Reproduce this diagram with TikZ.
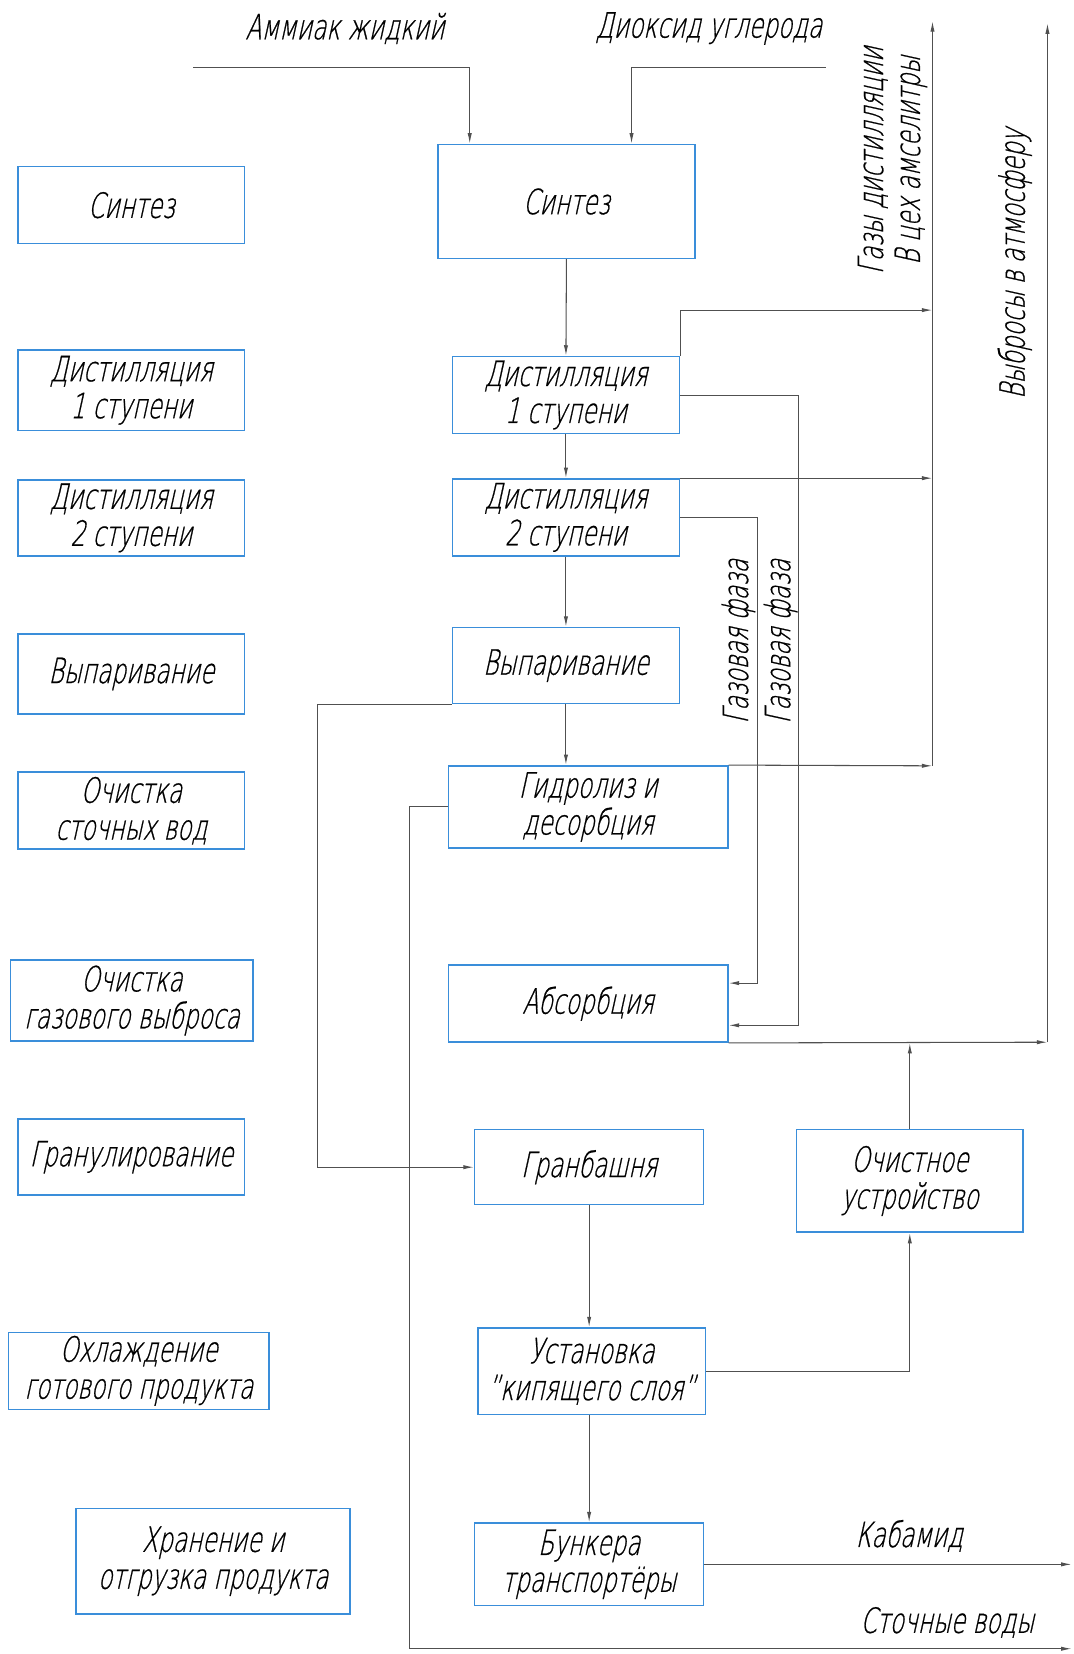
\documentclass[tikz,border=0pt]{standalone}
\usepackage{fontspec}
\setmainfont{DejaVu Sans ExtraLight}[FakeSlant=0.22,FakeStretch=0.67,FakeBold=0.6]
\usetikzlibrary{arrows.meta}
\definecolor{boxblue}{RGB}{58,142,218}
\definecolor{linegray}{RGB}{80,80,80}

\begin{document}
\begin{tikzpicture}[x=1pt,y=-1pt,>={Latex[length=10pt,width=4pt]},font=\fontsize{33}{35}\selectfont,
  blk/.style={draw=boxblue,line width=1.4pt,align=center,inner sep=0pt},
  flow/.style={->,draw=linegray,line width=1pt},
  lbl/.style={inner sep=0pt,align=center}]
\useasboundingbox (0,0) rectangle (1018,1568);
% stages on the left
\node[blk,minimum width=215pt,minimum height=73pt] (lsynth) at (124.5,194.5) {Синтез};
\node[blk,minimum width=215pt,minimum height=76pt] (ldist1) at (124.5,370) {Дистилляция\\1 ступени};
\node[blk,minimum width=215pt,minimum height=72pt] (ldist2) at (124.5,491) {Дистилляция\\2 ступени};
\node[blk,minimum width=215pt,minimum height=76pt] (levap) at (124.5,639) {Выпаривание};
\node[blk,minimum width=215pt,minimum height=73pt] (lwater) at (124.5,768.5) {Очистка\\сточных вод};
\node[blk,minimum width=230pt,minimum height=77pt] (lgas) at (125,948.5) {Очистка\\газового выброса};
\node[blk,minimum width=215pt,minimum height=72pt] (lgran) at (124.5,1097) {Гранулирование};
\node[blk,minimum width=247pt,minimum height=73pt] (lcool) at (131.5,1299.5) {Охлаждение\\готового продукта};
\node[blk,minimum width=260pt,minimum height=100pt] (lstore) at (202,1480) {Хранение и\\отгрузка продукта};
% process
\node[blk,minimum width=244pt,minimum height=108pt] (synth) at (537,191) {Синтез};
\node[blk,minimum width=215pt,minimum height=73pt] (dist1) at (536.5,374.5) {Дистилляция\\1 ступени};
\node[blk,minimum width=215pt,minimum height=73pt] (dist2) at (536.5,490.5) {Дистилляция\\2 ступени};
\node[blk,minimum width=215pt,minimum height=72pt] (evap) at (536.5,631) {Выпаривание};
\node[blk,minimum width=265pt,minimum height=78pt] (hydro) at (557.5,765) {Гидролиз и\\десорбция};
\node[blk,minimum width=265pt,minimum height=73pt] (absorb) at (557.5,951.5) {Абсорбция};
\node[blk,minimum width=217pt,minimum height=71pt] (gran) at (558.5,1106.5) {Гранбашня};
\node[blk,minimum width=215pt,minimum height=97pt] (clean) at (862.5,1119.5) {Очистное\\устройство};
\node[blk,minimum width=216pt,minimum height=82pt] (fluid) at (561,1300) {Установка\\"кипящего слоя"};
\node[blk,minimum width=217pt,minimum height=78pt] (bunker) at (558.5,1483) {Бункера\\транспортёры};
% texts
\node[lbl] (tnh3) at (327,27) {Аммиак жидкий};
\node[lbl] (tco2) at (672,27) {Диоксид углерода};
\node[lbl,rotate=90] (tgas) at (846,152) {Газы дистилляции\\В цех амселитры};
\node[lbl,rotate=90] (tair) at (962,250) {Выбросы в атмосферу};
\node[lbl,rotate=90] (tph1) at (700,608) {Газовая фаза};
\node[lbl,rotate=90] (tph2) at (740,608) {Газовая фаза};
\node[lbl] (turea) at (862,1456) {Кабамид};
\node[lbl] (twaste) at (898,1538) {Сточные воды};
% free ends
\coordinate (nh3) at (183,64); \coordinate (co2) at (783,64);
\coordinate (gastop) at (884,20); \coordinate (gasbot) at (884,726);
\coordinate (airtop) at (993,22); \coordinate (airbot) at (993,988);
\coordinate (urea) at (1016,1483); \coordinate (waste) at (1016,1563);
% connectors
\draw[flow] (nh3) -| ([xshift=31pt]synth.north west);
\draw[flow] (co2) -| ([xshift=-61pt]synth.north east);
\draw[flow] (synth.south) -- (dist1.north);
\draw[flow] (dist1.south) -- (dist2.north);
\draw[flow] (dist2.south) -- (evap.north);
\draw[flow] (evap.south) -- (evap.south |- hydro.north);
\draw[flow] (gasbot) -- (gastop);
\draw[flow] (dist1.north east) |- (gasbot |- 0,294);
\draw[flow] (dist2.north east) -- (gasbot |- dist2.north east);
\draw[flow] (hydro.north east) -- (gasbot);
\draw[flow] (airbot) -- (airtop);
\draw[flow] (absorb.south east) -- (airbot);
\draw[flow] (clean.north) -- (clean.north |- absorb.south);
\draw[flow] (dist1.east) -| (757,972) -- ([yshift=-20.5pt]absorb.east);
\draw[flow] (dist2.east) -| (718,932) -- ([yshift=19.5pt]absorb.east);
\draw[flow] (evap.south west) -| (301,1106.5) -- (gran.west);
\draw[flow] (hydro.west) -| (388,1563) -- (waste);
\draw[flow] (gran.south) -- (gran.south |- fluid.north);
\draw[flow] (fluid.east) -| (clean.south);
\draw[flow] (gran.south |- fluid.south) -- (gran.south |- bunker.north);
\draw[flow] (bunker.east) -- (urea);
\end{tikzpicture}
\end{document}
